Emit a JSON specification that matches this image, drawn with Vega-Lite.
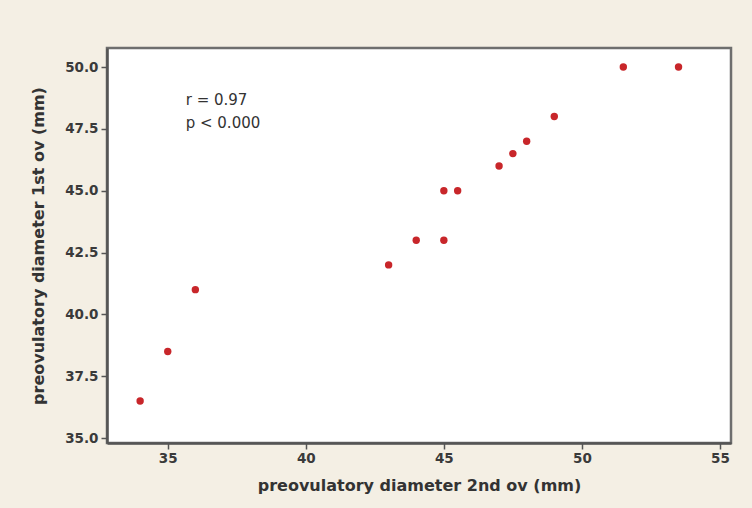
{
  "$schema": "https://vega.github.io/schema/vega-lite/v6.json",
  "width": 624,
  "height": 395,
  "autosize": {"type": "none"},
  "padding": {"left": 107, "top": 48, "right": 21, "bottom": 65},
  "background": "#f4efe4",
  "config": {
    "view": {"fill": "#ffffff", "stroke": "#6e6e6e", "strokeWidth": 2.5},
    "axis": {
      "grid": false,
      "domainColor": "#555555",
      "domainWidth": 2.5,
      "tickColor": "#555555",
      "tickWidth": 1.5,
      "tickSize": 6,
      "labelFont": "DejaVu Sans",
      "labelFontSize": 13.5,
      "labelColor": "#3a3a3a",
      "labelFontWeight": "bold",
      "titleFont": "DejaVu Sans",
      "titleFontSize": 16,
      "titleFontWeight": "bold",
      "titleColor": "#333333"
    }
  },
  "layer": [
    {
      "data": {
        "values": [
          {"d2": 34, "d1": 36.5},
          {"d2": 35, "d1": 38.5},
          {"d2": 36, "d1": 41},
          {"d2": 43, "d1": 42},
          {"d2": 44, "d1": 43},
          {"d2": 45, "d1": 43},
          {"d2": 45, "d1": 45},
          {"d2": 45.5, "d1": 45},
          {"d2": 47, "d1": 46},
          {"d2": 47.5, "d1": 46.5},
          {"d2": 48, "d1": 47},
          {"d2": 49, "d1": 48},
          {"d2": 51.5, "d1": 50},
          {"d2": 53.5, "d1": 50}
        ]
      },
      "mark": {"type": "circle", "size": 55, "color": "#c8262a", "opacity": 1},
      "encoding": {
        "x": {
          "field": "d2", "type": "quantitative",
          "title": "preovulatory diameter 2nd ov (mm)",
          "scale": {"domain": [32.8, 55.4], "nice": false, "zero": false},
          "axis": {"values": [35, 40, 45, 50, 55], "labelPadding": 2, "titlePadding": 13, "format": "d"}
        },
        "y": {
          "field": "d1", "type": "quantitative",
          "title": "preovulatory diameter 1st ov (mm)",
          "scale": {"domain": [34.8, 50.77], "nice": false, "zero": false},
          "axis": {"values": [35, 37.5, 40, 42.5, 45, 47.5, 50], "format": ".1f", "labelPadding": 3, "titlePadding": 18}
        }
      }
    },
    {
      "data": {
        "values": [
          {"tx": 35.65, "ty": 48.67, "label": "r = 0.97"},
          {"tx": 35.65, "ty": 47.74, "label": "p < 0.000"}
        ]
      },
      "mark": {"type": "text", "align": "left", "baseline": "middle", "font": "DejaVu Sans", "fontSize": 15, "color": "#333333"},
      "encoding": {
        "x": {"field": "tx", "type": "quantitative"},
        "y": {"field": "ty", "type": "quantitative"},
        "text": {"field": "label"}
      }
    }
  ]
}
